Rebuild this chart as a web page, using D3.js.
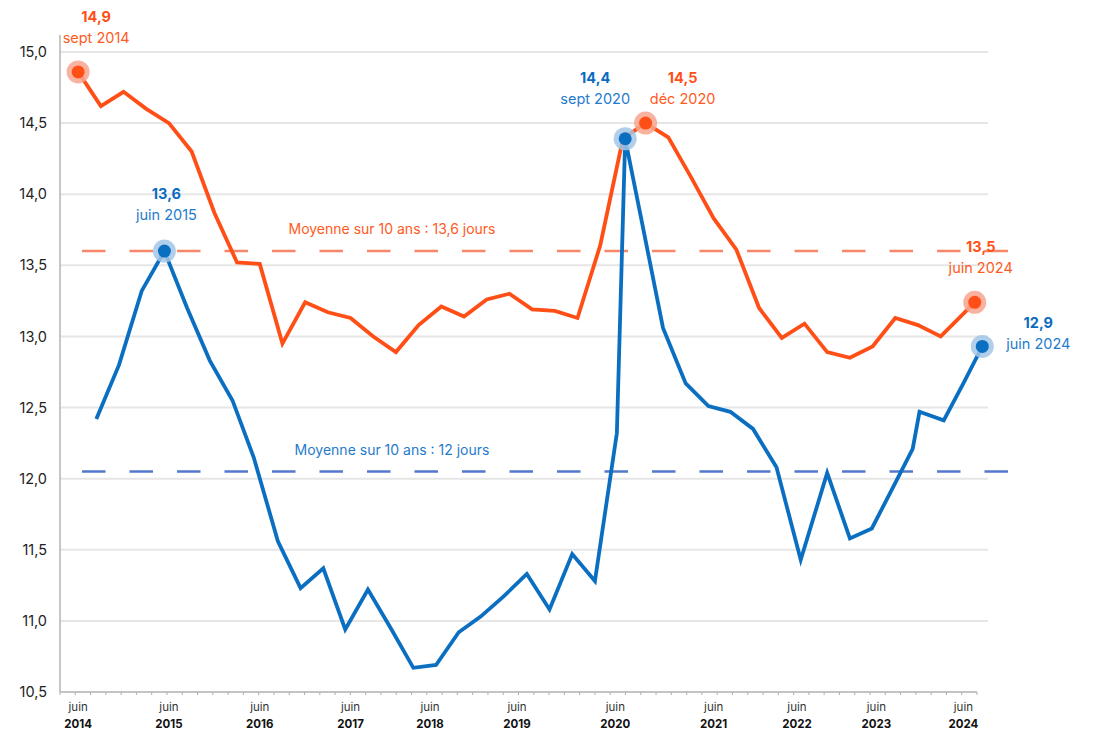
<!DOCTYPE html>
<html>
<head>
<meta charset="utf-8">
<script src="https://cdn.jsdelivr.net/npm/d3@7"></script>
<style>
  body { margin: 0; background: #fff; }
  svg { display: block; font-family: Inter, "Noto Sans", sans-serif; }
</style>
</head>
<body>
<svg id="chart"></svg>
<script>
// months counted from juin 2014, as placed on the picture
const orangeMonths = [0, 3, 6, 9, 12, 15, 18, 21, 24, 27, 30, 33, 36, 39, 42, 45, 48, 51, 54, 57,
  60, 63, 66, 69, 72, 75, 78, 81, 84, 87, 90, 93, 96, 99, 102, 105, 108, 111, 114, 118.5];
const orangeValues = [14.86, 14.62, 14.72, 14.60, 14.50, 14.30, 13.87, 13.52, 13.51, 12.95,
  13.24, 13.17, 13.13, 13.00, 12.89, 13.08, 13.21, 13.14, 13.26, 13.30,
  13.19, 13.18, 13.13, 13.64, 14.39, 14.50, 14.40, 14.12, 13.83, 13.61,
  13.20, 12.99, 13.09, 12.89, 12.85, 12.93, 13.13, 13.08, 13.00, 13.24];

const blueMonths = [2.4, 5.4, 8.4, 11.4, 14.4, 17.4, 20.4, 23.2, 26.4, 29.4, 32.4, 35.3, 38.3, 41.3,
  44.3, 47.3, 50.3, 53.2, 56.2, 59.3, 62.3, 65.3, 68.3, 71.2, 72.3, 74.3, 77.3, 80.3, 83.3, 86.2,
  89.2, 92.3, 95.5, 99, 102, 104.9, 107.8, 110.3, 111.2, 114.4, 117, 119.5];
const blueValues = [12.42, 12.80, 13.32, 13.60, 13.20, 12.83, 12.55, 12.15, 11.56, 11.23, 11.37, 10.94,
  11.22, 10.95, 10.67, 10.69, 10.92, 11.03, 11.17, 11.33, 11.08, 11.47, 11.28, 12.32, 14.39, 13.86,
  13.06, 12.67, 12.51, 12.47, 12.35, 12.08, 11.43, 12.04, 11.58, 11.65, 11.95, 12.21, 12.47, 12.41,
  12.67, 12.93];

const orangeAverage = 13.6;
const blueAverage = 12.05;
const averageLabels = ["Moyenne sur 10 ans : 13,6 jours", "Moyenne sur 10 ans : 12 jours"];

const yTicks = [10.5, 11, 11.5, 12, 12.5, 13, 13.5, 14, 14.5, 15];
const xLabelYears = ["2014", "2015", "2016", "2017", "2018", "2019", "2020", "2021", "2022", "2023", "2024"];
const xLabelMonths = [0, 12, 24, 36, 46.5, 58, 71, 84, 95, 105.5, 117];

// values and dates written next to the highlighted points
const highlightValues = [14.9, 13.6, 14.4, 14.5, 13.5, 12.9];
const highlightDates = ["sept 2014", "juin 2015", "sept 2020", "déc 2020", "juin 2024", "juin 2024"];

// highlighted points: series, index in the series, text offset
const highlights = [
  {serie: "orange", i: 0, dx: 18, dy: -55},
  {serie: "blue", i: 3, dx: 2, dy: -57},
  {serie: "blue", i: 24, dx: -30, dy: -61},
  {serie: "orange", i: 25, dx: 37, dy: -45},
  {serie: "orange", i: 39, dx: 6, dy: -55},
  {serie: "blue", i: 41, dx: 56, dy: -23}
];

const width = 1097, height = 732;
const plotLeft = 60, plotRight = 977, plotTop = 52, plotBottom = 692;

const colors = {
  orange: {line: "#ff4f17", dash: "#f7876a", halo: "#f9a58f", text: "#ff5a22", bold: "#ff4f17"},
  blue: {line: "#0b6fc1", dash: "#5478cc", halo: "#a3c7e8", text: "#1f7bcc", bold: "#0b6bbf"}
};

const fr = d3.formatLocale({decimal: ",", thousands: " ", grouping: [3], currency: ["", " €"]});
const fmt = fr.format(".1f");

const svg = d3.select("#chart").attr("width", width).attr("height", height);

const x = d3.scaleLinear().domain([-2.4, 118.8]).range([plotLeft, plotRight]);
const y = d3.scaleLinear().domain([10.5, 15]).range([plotBottom, plotTop]);

// gridlines
svg.append("g")
  .selectAll("line")
  .data(yTicks.filter(d => d > 10.5))
  .join("line")
  .attr("x1", plotLeft).attr("x2", 988)
  .attr("y1", d => y(d)).attr("y2", d => y(d))
  .attr("stroke", "#e6e6e6")
  .attr("stroke-width", 2);

// y axis
svg.append("line")
  .attr("x1", plotLeft).attr("x2", plotLeft)
  .attr("y1", 35).attr("y2", plotBottom)
  .attr("stroke", "#b5b5b5")
  .attr("stroke-width", 1.5);

svg.append("g")
  .selectAll("text")
  .data(yTicks)
  .join("text")
  .attr("x", 47)
  .attr("y", d => y(d))
  .attr("dy", "0.35em")
  .attr("text-anchor", "end")
  .attr("font-size", 14.5)
  .attr("fill", "#222")
  .text(d => fmt(d));

// x axis with small ticks
svg.append("line")
  .attr("x1", plotLeft).attr("x2", plotRight)
  .attr("y1", plotBottom).attr("y2", plotBottom)
  .attr("stroke", "#c4c4c4")
  .attr("stroke-width", 2);

svg.append("g")
  .selectAll("line")
  .data(d3.range(61))
  .join("line")
  .attr("x1", k => plotLeft + k * (plotRight - plotLeft) / 60)
  .attr("x2", k => plotLeft + k * (plotRight - plotLeft) / 60)
  .attr("y1", plotBottom).attr("y2", plotBottom + 3)
  .attr("stroke", "#b0b0b0")
  .attr("stroke-width", 1);

const xLab = svg.append("g")
  .selectAll("g")
  .data(xLabelMonths)
  .join("g")
  .attr("transform", d => `translate(${x(d)},0)`);

xLab.append("text")
  .attr("y", 711)
  .attr("text-anchor", "middle")
  .attr("font-size", 11.5)
  .attr("fill", "#333")
  .text("juin");

xLab.append("text")
  .attr("y", 728)
  .attr("text-anchor", "middle")
  .attr("font-size", 11.5)
  .attr("font-weight", 700)
  .attr("fill", "#111")
  .text((d, i) => xLabelYears[i]);

// 10 years averages
const averages = [
  {serie: "orange", value: orangeAverage, label: averageLabels[0]},
  {serie: "blue", value: blueAverage, label: averageLabels[1]}
];

svg.append("g")
  .selectAll("line")
  .data(averages)
  .join("line")
  .attr("x1", 82).attr("x2", 1010)
  .attr("y1", d => y(d.value)).attr("y2", d => y(d.value))
  .attr("stroke", d => colors[d.serie].dash)
  .attr("stroke-width", 2.5)
  .attr("stroke-dasharray", "23.5 24");

svg.append("g")
  .selectAll("text")
  .data(averages)
  .join("text")
  .attr("x", 392)
  .attr("y", d => y(d.value) - 17)
  .attr("text-anchor", "middle")
  .attr("font-size", 14)
  .attr("fill", d => colors[d.serie].text)
  .text(d => d.label);

// series lines
const series = {
  orange: orangeMonths.map((m, i) => ({m: m, v: orangeValues[i]})),
  blue: blueMonths.map((m, i) => ({m: m, v: blueValues[i]}))
};

const line = d3.line()
  .x(d => x(d.m))
  .y(d => y(d.v));

["orange", "blue"].forEach(s => {
  svg.append("path")
    .datum(series[s])
    .attr("fill", "none")
    .attr("stroke", colors[s].line)
    .attr("stroke-width", 3.8)
    .attr("stroke-linejoin", "miter")
    .attr("d", line);
});

// highlighted points with their labels
const hl = svg.append("g")
  .selectAll("g")
  .data(highlights)
  .join("g")
  .attr("transform", d => {
    const p = series[d.serie][d.i];
    return `translate(${x(p.m)},${y(p.v)})`;
  });

hl.append("circle")
  .attr("r", 11.5)
  .attr("fill", d => colors[d.serie].halo)
  .attr("opacity", 0.85);

hl.append("circle")
  .attr("r", 6.5)
  .attr("fill", d => colors[d.serie].line);

hl.append("text")
  .attr("x", d => d.dx)
  .attr("y", d => d.dy + 5)
  .attr("text-anchor", "middle")
  .attr("font-size", 14.5)
  .attr("font-weight", 700)
  .attr("fill", d => colors[d.serie].bold)
  .text((d, i) => fmt(highlightValues[i]));

hl.append("text")
  .attr("x", d => d.dx)
  .attr("y", d => d.dy + 26)
  .attr("text-anchor", "middle")
  .attr("font-size", 14.5)
  .attr("fill", d => colors[d.serie].text)
  .text((d, i) => highlightDates[i]);
</script>
</body>
</html>
